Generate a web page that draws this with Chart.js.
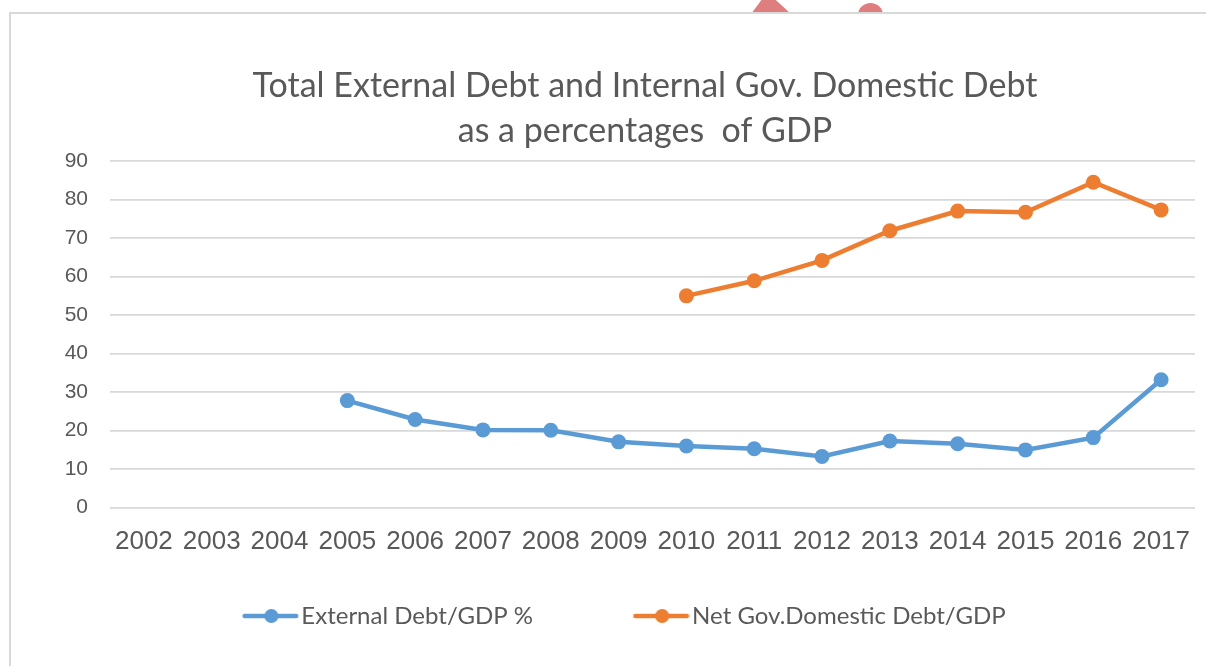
<!DOCTYPE html>
<html><head><meta charset="utf-8">
<script src="https://cdn.jsdelivr.net/npm/chart.js@4.4.1/dist/chart.umd.min.js"></script>
<style>
html,body{margin:0;padding:0;background:#fff;width:1206px;height:666px;overflow:hidden;}
#wrap{position:relative;width:1206px;height:666px;}
.blob{position:absolute;background:#df7e7e;}
#b1{left:751px;top:0;width:40px;height:14px;clip-path:polygon(26% 0,62% 0,100% 100%,0 100%);}
#b2{left:858px;top:3px;width:25px;height:24px;border-radius:50%;}
#frame{position:absolute;left:9px;top:12px;width:1300px;height:700px;border-left:2px solid #d9d9d9;border-top:2px solid #d9d9d9;background:#fff;}
canvas{position:absolute;left:0;top:0;}
</style></head>
<body><div id="wrap"><div class="blob" id="b1"></div><div class="blob" id="b2"></div><div id="frame"></div><canvas id="c" width="1206" height="666"></canvas></div>
<script>
const categories = ['2002','2003','2004','2005','2006','2007','2008','2009','2010','2011','2012','2013','2014','2015','2016','2017'];
const externalDebt = [null,null,null,27.8,22.9,20.2,20.1,17.1,16.0,15.3,13.3,17.3,16.6,15.0,18.2,33.2];
const domesticDebt = [null,null,null,null,null,null,null,null,55.0,58.9,64.2,71.9,77.0,76.7,84.5,77.3];
const seriesNames = ['External Debt/GDP %','Net Gov.Domestic Debt/GDP'];
const titleLines = ['Total External Debt and Internal Gov. Domestic Debt','as a percentages  of GDP'];
const yMin = 0, yMax = 90, yStep = 10;

const colors = ['#5b9bd5','#ed7d31'];
const legendTrail = ['\u2003\u2003\u2003\u2003\u2002\u2009\u2009','\u2003\u2003\u2009\u2009'];

function legendImg(color){
  const c=document.createElement('canvas');c.width=66;c.height=16;
  const g=c.getContext('2d');
  g.strokeStyle=color;g.lineWidth=4.5;g.lineCap='round';
  g.beginPath();g.moveTo(11.75,8);g.lineTo(63.25,8);g.stroke();
  g.fillStyle=color;g.beginPath();g.arc(38.5,8,7,0,Math.PI*2);g.fill();
  return c;
}
const legendImgs = colors.map(legendImg);

new Chart(document.getElementById('c'), {
  type:'line',
  data:{
    labels:categories,
    datasets:[
      {label:seriesNames[0],data:externalDebt,borderColor:colors[0],backgroundColor:colors[0],pointBackgroundColor:colors[0],pointBorderWidth:0,pointRadius:7.5,borderWidth:4.5,tension:0,spanGaps:false},
      {label:seriesNames[1],data:domesticDebt,borderColor:colors[1],backgroundColor:colors[1],pointBackgroundColor:colors[1],pointBorderWidth:0,pointRadius:7.5,borderWidth:4.5,tension:0,spanGaps:false}
    ]
  },
  options:{
    responsive:false,animation:false,devicePixelRatio:1,
    layout:{padding:{left:60,right:-24,top:0,bottom:28}},
    plugins:{
      tooltip:{enabled:false},
      title:{display:true,text:titleLines,color:'#595959',font:{family:'Lato',size:34,weight:'normal',lineHeight:45/34},padding:{top:63.5,bottom:7.5}},
      legend:{position:'bottom',labels:{
        usePointStyle:true,pointStyleWidth:47,padding:10,color:'#595959',
        font:{family:'Lato',size:24},
        generateLabels:(chart)=>chart.data.datasets.map((ds,i)=>({text:ds.label+legendTrail[i],fillStyle:ds.borderColor,strokeStyle:ds.borderColor,lineWidth:0,pointStyle:legendImgs[i],hidden:false,datasetIndex:i,fontColor:'#595959'}))
      }}
    },
    scales:{
      x:{offset:true,grid:{display:false,offset:true},border:{display:false},
         ticks:{color:'#595959',font:{family:'Liberation Sans',size:26},padding:11,maxRotation:0,autoSkip:false},
         afterFit:(s)=>{s.height=86.3;}},
      y:{min:yMin,max:yMax,
         grid:{color:'#d9d9d9',lineWidth:1.8,drawTicks:false},border:{display:false},
         ticks:{stepSize:yStep,color:'#595959',font:{family:'Liberation Sans',size:21},padding:22},
         afterFit:(s)=>{s.width=50;}},
      y2:{position:'right',display:true,grid:{display:false},border:{display:false},ticks:{display:false},
         afterFit:(s)=>{s.width=35;}}
    }
  }
});
</script></body></html>
